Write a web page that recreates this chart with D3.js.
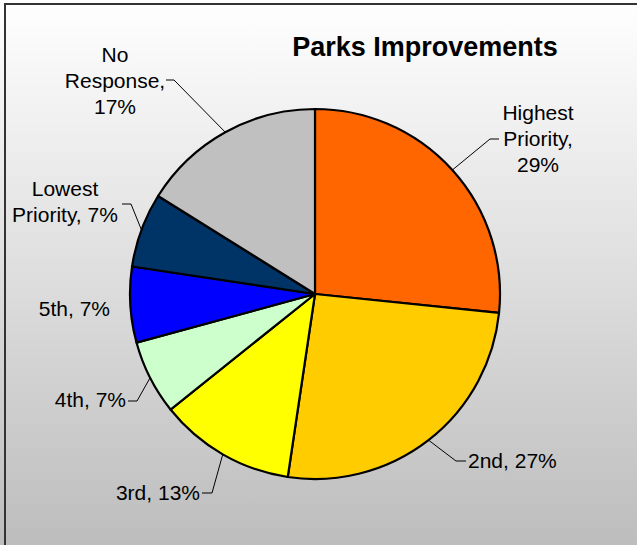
<!DOCTYPE html>
<html>
<head>
<meta charset="utf-8">
<script src="https://cdn.jsdelivr.net/npm/d3@7"></script>
<style>
  html, body { margin: 0; padding: 0; overflow: hidden; }
  svg { display: block; }
</style>
</head>
<body>
<div id="chart"></div>
<script>
// slices, clockwise from 12 o'clock
var categories = ["Highest Priority", "2nd", "3rd", "4th", "5th", "Lowest Priority", "No Response"];
var shares = [26.6, 25.7, 11.9, 6.5, 6.6, 6.5, 16.1];
var labelPct = ["29%", "27%", "13%", "7%", "7%", "7%", "17%"];
var colors = ["#ff6600", "#ffcc00", "#ffff00", "#ccffcc", "#0000ff", "#003366", "#c0c0c0"];

// label text lines and placement (x, y of first baseline, anchor, elbow x)
var labelLines = [
  ["Highest", "Priority,", "29%"],
  ["2nd, 27%"],
  ["3rd, 13%"],
  ["4th, 7%"],
  ["5th, 7%"],
  ["Lowest", "Priority, 7%"],
  ["No", "Response,", "17%"]
];
var labelPos = [
  {x: 538, y: 120, anchor: "middle", lx: 499, ly: 139, ex: 490},
  {x: 468, y: 468, anchor: "start", lx: 466, ly: 461, ex: 456},
  {x: 200, y: 500, anchor: "end", lx: 202, ly: 493, ex: 212},
  {x: 126, y: 407, anchor: "end", lx: 128, ly: 401, ex: 137},
  {x: 110, y: 316, anchor: "end", lx: null},
  {x: 65, y: 196, anchor: "middle", lx: 122, ly: 204, ex: 131},
  {x: 115, y: 62, anchor: "middle", lx: 166, ly: 80, ex: 174}
];

var w = 637, h = 545;
var cx = 315, cy = 294, r = 185;

var svg = d3.select("#chart")
  .append("svg")
  .attr("width", w)
  .attr("height", h);

var grad = svg.append("defs").append("linearGradient")
  .attr("id", "bg")
  .attr("x1", 0).attr("y1", 0).attr("x2", 0).attr("y2", 1);
grad.append("stop").attr("offset", "0%").attr("stop-color", "#ffffff");
grad.append("stop").attr("offset", "100%").attr("stop-color", "#bdbdbd");

svg.append("rect")
  .attr("x", 0).attr("y", 0)
  .attr("width", w).attr("height", h)
  .attr("fill", "url(#bg)");

// frame (only top and left edges are inside the picture)
svg.append("path")
  .attr("d", "M5," + h + "V4H" + w)
  .attr("fill", "none")
  .attr("stroke", "#333")
  .attr("stroke-width", 2);

// title
svg.append("text")
  .attr("x", 425)
  .attr("y", 56)
  .attr("text-anchor", "middle")
  .style("font-family", "Liberation Sans, Arial, sans-serif")
  .style("font-size", "27px")
  .style("font-weight", "bold")
  .text("Parks Improvements");

var pie = d3.pie().sort(null).value(function(d) { return d; });
var arcs = pie(shares);
var arc = d3.arc().innerRadius(0).outerRadius(r);

var g = svg.append("g").attr("transform", "translate(" + cx + "," + cy + ")");

// slices
g.selectAll(".slice")
  .data(arcs)
  .enter()
  .append("path")
  .attr("class", "slice")
  .attr("d", arc)
  .attr("fill", function(d, i) { return colors[i]; })
  .attr("stroke", "#000")
  .attr("stroke-width", 2.2)
  .attr("stroke-linejoin", "round");

// leader lines
arcs.forEach(function(d, i) {
  var p = labelPos[i];
  if (p.lx == null) return;
  var a = (d.startAngle + d.endAngle) / 2;
  var px = cx + r * Math.sin(a), py = cy - r * Math.cos(a);
  svg.append("polyline")
    .attr("points", [[px, py], [p.ex, p.ly], [p.lx, p.ly]].map(function(q) { return q.join(","); }).join(" "))
    .attr("fill", "none")
    .attr("stroke", "#000")
    .attr("stroke-width", 1);
});

// labels
labelLines.forEach(function(lines, i) {
  var p = labelPos[i];
  var t = svg.append("text")
    .attr("text-anchor", p.anchor)
    .style("font-family", "Liberation Sans, Arial, sans-serif")
    .style("font-size", "21px")
    .attr("fill", "#000");
  lines.forEach(function(s, j) {
    t.append("tspan")
      .attr("x", p.x)
      .attr("y", p.y + j * 26)
      .text(s);
  });
});
</script>
</body>
</html>
